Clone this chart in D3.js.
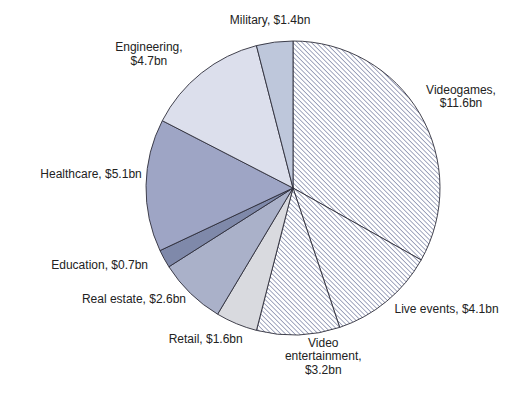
<!DOCTYPE html>
<html>
<head>
<meta charset="utf-8">
<script src="https://cdn.jsdelivr.net/npm/d3@7"></script>
<style>
  body { margin: 0; background: #fff; }
  text { font-family: "Liberation Sans", Arial, sans-serif; font-size: 12px; fill: #222; }
</style>
</head>
<body>
<div id="chart"></div>
<script>
const width = 527;
const height = 395;

// data, clockwise from 12 o'clock
const categories = ["Videogames", "Live events", "Video entertainment", "Retail", "Real estate",
                    "Education", "Healthcare", "Engineering", "Military"];
const values = [11.6, 4.1, 3.2, 1.6, 2.6, 0.7, 5.1, 4.7, 1.4];
const labels = [
  ["Videogames,", "$11.6bn"],
  ["Live events, $4.1bn"],
  ["Video", "entertainment,", "$3.2bn"],
  ["Retail, $1.6bn"],
  ["Real estate, $2.6bn"],
  ["Education, $0.7bn"],
  ["Healthcare, $5.1bn"],
  ["Engineering,", "$4.7bn"],
  ["Military, $1.4bn"]
];

const cx = 293, cy = 188, radius = 147;

const fills = ["url(#hatch)", "url(#hatch)", "url(#hatch)", "#d9dadf", "#aab1c9",
               "#7f89aa", "#9ea5c5", "#dcdfec", "#bec7db"];
// label nudges from the centroid on the label ring
const nudge = [[17, -6], [42, -10], [24, -16], [-20, -7], [-37, -10], [-40, -3], [-27, -7], [-35, 0], [-1, 10]];

const svg = d3.select("#chart").append("svg")
  .attr("width", width)
  .attr("height", height);

// diagonal hatch for the entertainment slices
const step = 3.3;
const pat = svg.append("defs").append("pattern")
  .attr("id", "hatch")
  .attr("patternUnits", "userSpaceOnUse")
  .attr("width", step)
  .attr("height", step)
  .attr("patternTransform", "rotate(-45)");
pat.append("rect").attr("width", step).attr("height", step).attr("fill", "#fff");
pat.append("line")
  .attr("x1", 0).attr("y1", 0).attr("x2", 0).attr("y2", step)
  .attr("stroke", "#737a9e")
  .attr("stroke-width", 1.3);

const pie = d3.pie().sort(null).value(d => d);
const arcs = pie(values);

const arc = d3.arc().innerRadius(0).outerRadius(radius);
const labelArc = d3.arc().innerRadius(175).outerRadius(175);

const g = svg.append("g").attr("transform", `translate(${cx},${cy})`);

g.selectAll("path")
  .data(arcs)
  .enter()
  .append("path")
  .attr("d", arc)
  .attr("fill", (d, i) => fills[i])
  .attr("stroke", "#2e2e3a")
  .attr("stroke-width", 0.9)
  .attr("stroke-linejoin", "round");

// labels
const lab = g.selectAll("text.lab")
  .data(arcs)
  .enter()
  .append("text")
  .attr("class", "lab")
  .attr("text-anchor", "middle")
  .attr("transform", (d, i) => {
    const c = labelArc.centroid(d);
    return `translate(${c[0] + nudge[i][0]},${c[1] + nudge[i][1]})`;
  });

lab.each(function(d, i) {
  const t = d3.select(this);
  labels[i].forEach((line, j) => {
    t.append("tspan")
      .attr("x", 0)
      .attr("y", j * 13.5)
      .text(line);
  });
});
</script>
</body>
</html>
